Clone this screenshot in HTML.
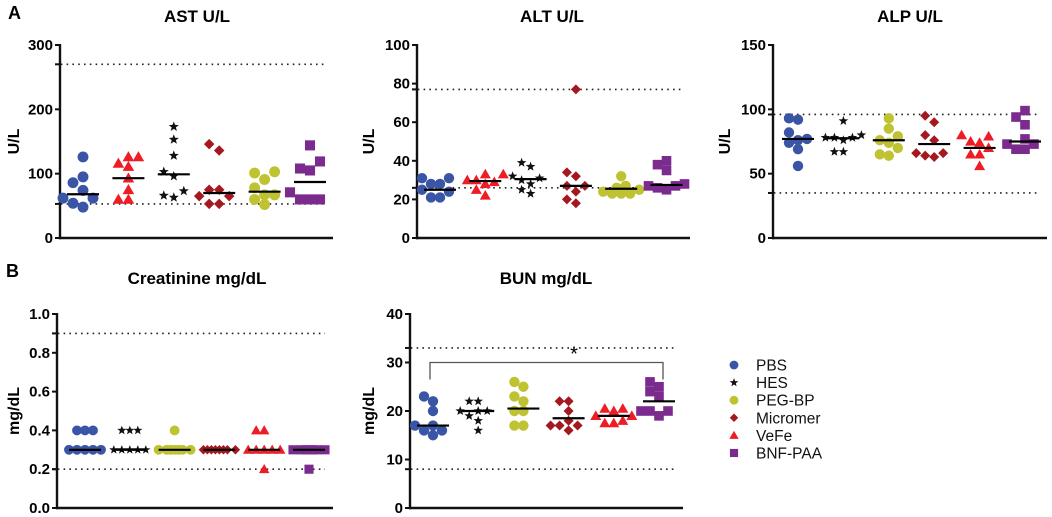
<!DOCTYPE html>
<html><head><meta charset="utf-8"><style>
html,body{margin:0;padding:0;background:#fff;}
svg{display:block;font-family:"Liberation Sans",Arial,sans-serif;}
</style></head><body>
<svg id="chart" width="1052" height="517" viewBox="0 0 1052 517">
<text x="8" y="19" font-size="18" font-weight="bold">A</text>
<text x="6" y="277" font-size="18" font-weight="bold">B</text>
<g id="legend"></g>
</svg>
<script>
// group names
const groupNames = ["PBS","HES","PEG-BP","Micromer","VeFe","BNF-PAA"];
// AST (order: PBS, VeFe, HES, Micromer, PEG-BP, BNF-PAA)
const astOrder = ["PBS","VeFe","HES","Micromer","PEG-BP","BNF-PAA"];
const astValues = [[126,86,95,62,62,74,48,54],[116,126,126,111,93,75,60,60],[173,153,128,103,96,73,63,66],[146,136,75,75,65,65,53,53],[101,103,91,78,67,60,52,67],[144,119,105,108,71,60,60,60]];
const astMedians = [68,93,99,70,72,87];
const astTicks = [0,100,200,300];
const astRefs = [270,53];
// ALT
const altOrder = ["PBS","VeFe","HES","Micromer","PEG-BP","BNF-PAA"];
const altValues = [[31,31,28,28,25,21,21,24],[33,33,30,30,29,28,25,22],[39,37,32,31,30,28,25,23],[77,34,32,27,27,24,20,18],[32,27,26,25,24,23,23,23],[40,38,35,28,27,27,26,25]];
const altMedians = [25,29.5,30.5,27,25.5,27.5];
const altTicks = [0,20,40,60,80,100];
const altRefs = [77,26];
// ALP
const alpOrder = ["PBS","HES","PEG-BP","Micromer","VeFe","BNF-PAA"];
const alpValues = [[92,93,82,77,76,74,69,56],[91,80,78,78,78,76,67,67],[93,85,79,76,74,70,65,64],[95,90,80,76,66,66,64,63],[80,79,75,74,70,65,65,56],[99,94,88,77,73,73,69,69]];
const alpMedians = [77,77.5,76,73,70,75];
const alpTicks = [0,50,100,150];
const alpRefs = [96,35];
// Creatinine
const creOrder = ["PBS","HES","PEG-BP","Micromer","VeFe","BNF-PAA"];
const creValues = [[0.4,0.4,0.4,0.3,0.3,0.3,0.3,0.3],[0.4,0.4,0.4,0.3,0.3,0.3,0.3,0.3],[0.4,0.3,0.3,0.3,0.3,0.3,0.3,0.3],[0.3,0.3,0.3,0.3,0.3,0.3,0.3,0.3],[0.4,0.4,0.3,0.3,0.3,0.3,0.3,0.2],[0.3,0.3,0.3,0.3,0.3,0.3,0.3,0.2]];
const creMedians = [0.3,0.3,0.3,0.3,0.3,0.3];
const creTicks = [0,0.2,0.4,0.6,0.8,1.0];
const creRefs = [0.9,0.2];
// BUN
const bunOrder = ["PBS","HES","PEG-BP","Micromer","VeFe","BNF-PAA"];
const bunValues = [[23,22,20,17,17,16,16,15],[22,22,20,20,20,19,18,16],[26,25,23,22,20,20,17,17],[22,22,20,18,17,17,17,16],[20.5,20.5,20,19,19,18,17.5,17.5],[26,25,24,23,20,20,20,19]];
const bunMedians = [17,20,20.5,18.5,19,22];
const bunTicks = [0,10,20,30,40];
const bunRefs = [33,8];
const bunBracket = [30];

const NS="http://www.w3.org/2000/svg";
const svg=document.getElementById('chart');
const style={"PBS":{c:"#3b55a6",m:"circle"},"HES":{c:"#111",m:"star"},"PEG-BP":{c:"#bfc332",m:"circle"},"Micromer":{c:"#a3191f",m:"diamond"},"VeFe":{c:"#ee1d25",m:"triangle"},"BNF-PAA":{c:"#7b2a8d",m:"square"}};
function mk(tag,attrs,parent){const e=document.createElementNS(NS,tag);for(const k in attrs)e.setAttribute(k,attrs[k]);(parent||svg).appendChild(e);return e;}
function marker(g,name,x,y,s){
  const st=style[name];let e;
  if(st.m==="circle"){e=mk('circle',{cx:x,cy:y,r:s*0.52,fill:st.c},g);}
  else if(st.m==="square"){e=mk('rect',{x:x-s*0.48,y:y-s*0.48,width:s*0.96,height:s*0.96,fill:st.c},g);}
  else if(st.m==="diamond"){const r=s*0.5;e=mk('polygon',{points:`${x},${y-r} ${x+r},${y} ${x},${y+r} ${x-r},${y}`,fill:st.c},g);}
  else if(st.m==="triangle"){const r=s*0.55;e=mk('polygon',{points:`${x},${y-r} ${x+r},${y+r*0.75} ${x-r},${y+r*0.75}`,fill:st.c},g);}
  else {const R=s*0.5,r=R*0.42;let p=[];for(let i=0;i<10;i++){const a=-Math.PI/2+i*Math.PI/5;const rr=i%2?r:R;p.push((x+rr*Math.cos(a)).toFixed(1)+','+(y+rr*Math.sin(a)).toFixed(1));}e=mk('polygon',{points:p.join(' '),fill:st.c},g);}
  
  
  return e;
}
function panel(o){
  const g=mk('g',{});
  
  
  const yS=v=>o.y0-(v-o.min)/(o.max-o.min)*(o.y0-o.y1);
  const t=mk('text',{x:o.tx,y:o.ty,'font-size':17,'font-weight':'bold','text-anchor':'middle'},g);t.textContent=o.title;
  
  const yl=mk('text',{x:0,y:0,'font-size':16,'font-weight':'bold','text-anchor':'middle',transform:`translate(${o.ylx},${(o.y0+o.y1)/2}) rotate(-90)`},g);yl.textContent=o.ylabel;
  
  o.refs.forEach(r=>{const l=mk('line',{x1:o.ax-5,x2:o.xe-8,y1:yS(r),y2:yS(r),stroke:'#222','stroke-width':1.6,'stroke-dasharray':'1.6 4.2'},g);
    });
  const ya=mk('line',{x1:o.ax,x2:o.ax,y1:o.y1-1,y2:o.y0+1.2,stroke:'#111','stroke-width':2.4},g);
  
  const xa=mk('line',{x1:o.ax-1,x2:o.xe,y1:o.y0,y2:o.y0,stroke:'#111','stroke-width':2.4},g);
  
  o.ticks.forEach(v=>{const y=yS(v);mk('line',{x1:o.ax-5,x2:o.ax,y1:y,y2:y,stroke:'#111','stroke-width':2},g);
    const tl=mk('text',{x:o.ax-7,y:y+5,'font-size':15,'font-weight':'bold','text-anchor':'end'},g);tl.textContent=o.fmt?o.fmt(v):v;
    });
  o.refs.forEach(r=>mk('line',{x1:o.ax-5,x2:o.ax,y1:yS(r),y2:yS(r),stroke:'#111','stroke-width':2},g));
  o.order.forEach((name,i)=>{
    const cx=o.gx0+i*o.gs;const gg=mk('g',{},g);
    
    const vals=o.values[i].slice().sort((a,b)=>a-b);const placed=[];const d=o.sp;
    const cand=[0,-d,d,-2*d,2*d,-0.5*d,0.5*d,-1.5*d,1.5*d];
    vals.forEach(v=>{const y=yS(v);
      let best=null;
      for(const c of cand){if(placed.every(p=>Math.hypot(p[0]-c,p[1]-y)>=d*0.95)){best=c;break;}}
      if(best===null){let bs=-1;for(const c of cand){const m=Math.min(...placed.map(p=>Math.hypot(p[0]-c,p[1]-y)));if(m>bs){bs=m;best=c;}}}
      placed.push([best,y]);marker(gg,name,cx+best,y,o.ms);});
    const m=mk('line',{x1:cx-16,x2:cx+16,y1:yS(o.medians[i]),y2:yS(o.medians[i]),stroke:'#000','stroke-width':2.2},gg);
    
  });
  return {g,yS};
}
panel({id:'ast',title:'AST U/L',tx:197,ty:22,ylabel:'U/L',ylx:19,ax:60,xe:333,y0:238,y1:45,min:0,max:300,ticks:astTicks,refs:astRefs,order:astOrder,values:astValues,medians:astMedians,gx0:83,gs:45.4,sp:10,ms:10.5});
panel({id:'alt',title:'ALT U/L',tx:552,ty:22,ylabel:'U/L',ylx:374,ax:417,xe:690,y0:238,y1:45,min:0,max:100,ticks:altTicks,refs:altRefs,order:altOrder,values:altValues,medians:altMedians,gx0:440,gs:45.3,sp:9,ms:10});
panel({id:'alp',title:'ALP U/L',tx:910,ty:22,ylabel:'U/L',ylx:730,ax:773,xe:1047,y0:238,y1:45,min:0,max:150,ticks:alpTicks,refs:alpRefs,order:alpOrder,values:alpValues,medians:alpMedians,gx0:798,gs:45.4,sp:9,ms:10});
panel({id:'creatinine',title:'Creatinine mg/dL',tx:197,ty:284,ylabel:'mg/dL',ylx:19,ax:57,xe:333,y0:508,y1:314,min:0,max:1,ticks:creTicks,refs:creRefs,order:creOrder,values:creValues,medians:creMedians,gx0:85,gs:44.8,sp:8,ms:9.5,fmt:v=>v.toFixed(1)});
const bun=panel({id:'bun',title:'BUN  mg/dL',tx:546,ty:284,ylabel:'mg/dL',ylx:374,ax:410,xe:683,y0:508,y1:314,min:0,max:40,ticks:bunTicks,refs:bunRefs,order:bunOrder,values:bunValues,medians:bunMedians,gx0:433,gs:45.2,sp:9,ms:10});
const by=bun.yS(bunBracket[0]);
const br=mk('path',{d:`M430,${by+17} L430,${by} L663,${by} L663,${by+17}`,fill:'none',stroke:'#555','stroke-width':1.3},bun.g);

const st=mk('text',{x:574,y:by-2,'font-size':20,'text-anchor':'middle'},bun.g);st.textContent='*';

const leg=document.getElementById('legend');
groupNames.forEach((n,i)=>{const y=365+i*17.6;const gg=mk('g',{},leg);
  
  marker(gg,n,734,y,n==="HES"?9:8.5);
  const t=mk('text',{x:756,y:y+5.5,'font-size':15.5,fill:'#111'},gg);t.textContent=n;});
</script>
</body></html>
